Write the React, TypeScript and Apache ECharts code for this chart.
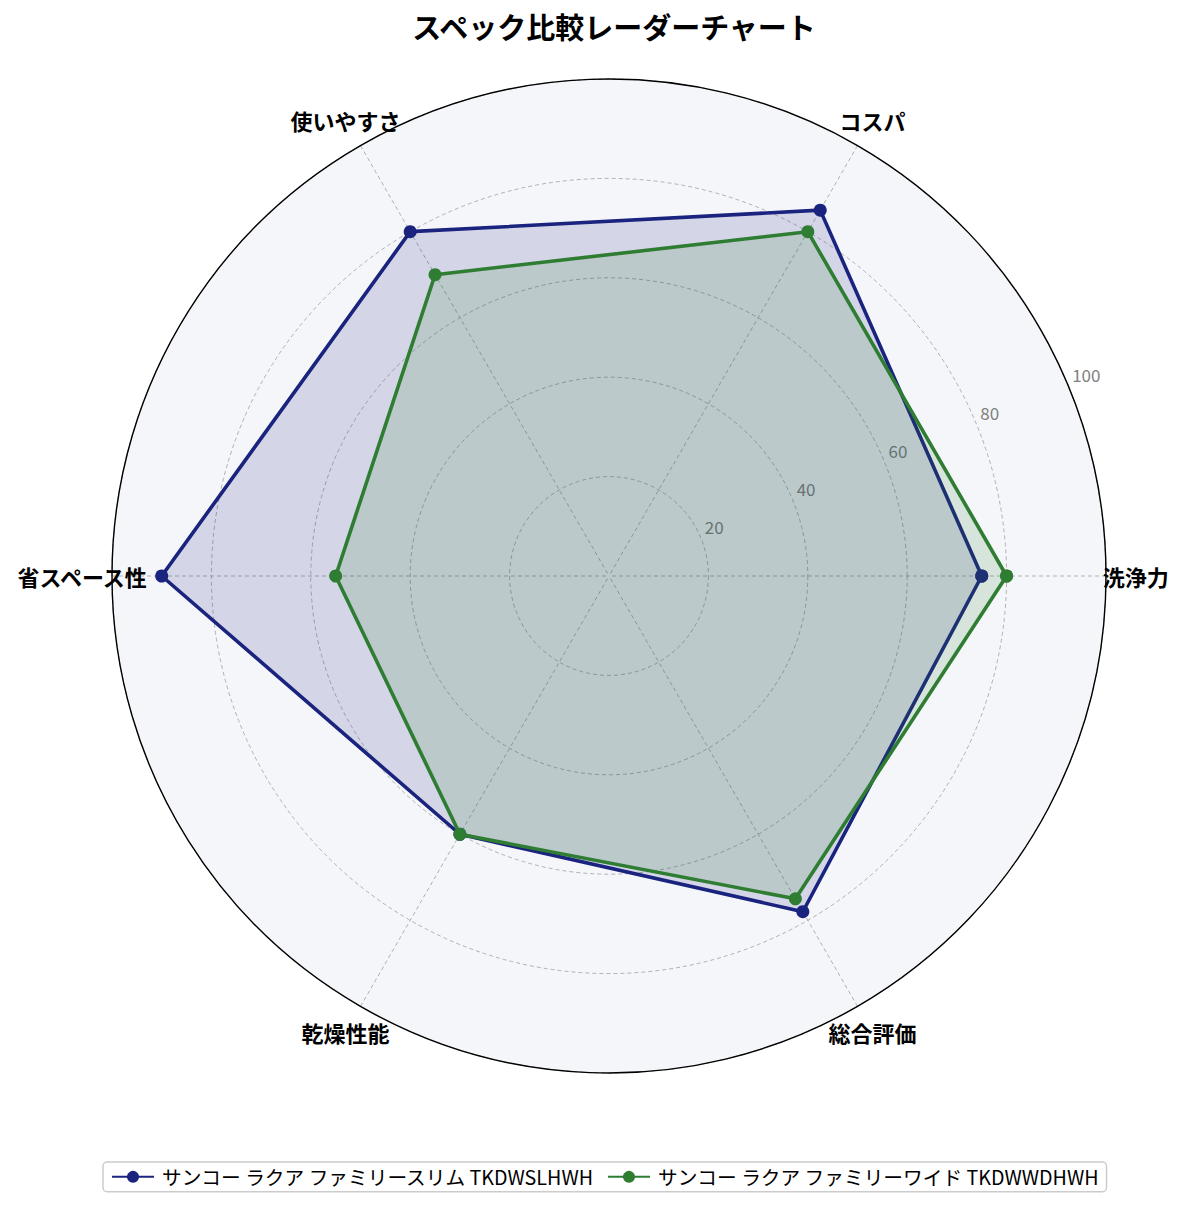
import React, { useEffect, useRef } from "react";
import * as echarts from "echarts";

const categories = ["洗浄力", "コスパ", "使いやすさ", "省スペース性", "乾燥性能", "総合評価"];
const slimValues = [75, 85, 80, 90, 60, 78];
const wideValues = [80, 80, 70, 55, 60, 75];
const radialTicks = [0, 20, 40, 60, 80, 100];
const seriesNames = ["サンコー ラクア ファミリースリム TKDWSLHWH", "サンコー ラクア ファミリーワイド TKDWWDHWH"];
const seriesColors = ["#1a237e", "#2e7d32"];

const FONT = "'Noto Sans CJK JP', 'Noto Sans', sans-serif";

function toPolar(values: number[]) {
  const step = 360 / categories.length;
  const pts = values.map((v, i) => [v, i * step]);
  pts.push([values[0], 360]);
  return pts;
}

export default function App() {
  const ref = useRef<HTMLDivElement>(null);
  useEffect(() => {
    if (!ref.current) return;
    const chart = echarts.init(ref.current, undefined, { renderer: "svg" });
    const center = [609, 576];
    const radius = 497;
    const step = 360 / categories.length;
    const labelR = 106;
    const gridLine = { color: "#a8a8a8", type: [4, 3], width: 0.9 };
    chart.setOption({
      animation: false,
      backgroundColor: "#ffffff",
      textStyle: { fontFamily: FONT },
      title: {
        text: "スペック比較レーダーチャート",
        left: 609,
        textAlign: "center",
        top: 6,
        textStyle: { fontSize: 29, fontWeight: "bold", color: "#000", fontFamily: FONT },
      },
      legend: {
        data: seriesNames,
        top: 1162,
        left: 103,
        orient: "horizontal",
        itemWidth: 42,
        itemHeight: 15,
        itemGap: 13,
        padding: [5, 8],
        borderColor: "#cccccc",
        borderWidth: 1.5,
        borderRadius: 4,
        textStyle: { fontSize: 19.7, color: "#000", fontFamily: FONT, padding: [0, 0, 0, 3] },
      },
      polar: [
        { center, radius },
        { center, radius },
      ],
      angleAxis: [
        {
          polarIndex: 0,
          type: "value",
          min: 0,
          max: 360,
          interval: step,
          startAngle: 0,
          clockwise: false,
          axisLine: { show: false },
          axisTick: { show: false },
          axisLabel: { show: false },
          splitLine: { show: true, lineStyle: gridLine },
        },
        {
          polarIndex: 1,
          type: "value",
          min: 0,
          max: 360,
          interval: step,
          startAngle: 22.5,
          clockwise: false,
          z: 2,
          axisLine: { show: true, lineStyle: { color: "#000", width: 1.4 } },
          axisTick: { show: false },
          axisLabel: { show: false },
          splitLine: { show: false },
        },
      ],
      radiusAxis: [
        {
          polarIndex: 0,
          type: "value",
          min: 0,
          max: 100,
          interval: 20,
          axisLine: { show: false },
          axisTick: { show: false },
          axisLabel: { show: false },
          splitLine: { show: false },
          splitArea: { show: true, areaStyle: { color: ["#f5f6fa"] } },
        },
        {
          polarIndex: 1,
          type: "value",
          min: 0,
          max: 100,
          interval: 20,
          z: 1,
          axisLine: { show: false },
          axisTick: { show: false },
          splitLine: { show: true, lineStyle: gridLine },
          axisLabel: {
            show: true,
            fontSize: 17,
            color: "#808080",
            fontFamily: FONT,
            margin: 0,
            align: "left",
            verticalAlign: "bottom",
            padding: [0, 0, 3, 4],
            formatter: (v: number) => (radialTicks.includes(v) && v > 0 ? String(v) : ""),
          },
        },
      ],
      series: [
        ...[slimValues, wideValues].map((vals, i) => ({
          name: seriesNames[i],
          type: "line",
          coordinateSystem: "polar",
          polarIndex: 0,
          data: toPolar(vals),
          symbol: "circle",
          symbolSize: 13,
          showSymbol: true,
          lineStyle: { color: seriesColors[i], width: 3.6 },
          itemStyle: { color: seriesColors[i] },
          areaStyle: { color: seriesColors[i], opacity: 0.15 },
          z: 3 + i,
        })),
        {
          name: "categoryLabels",
          type: "scatter",
          coordinateSystem: "polar",
          polarIndex: 0,
          clip: false,
          silent: true,
          symbol: "circle",
          symbolSize: 1,
          itemStyle: { color: "rgba(0,0,0,0)" },
          data: categories.map((c, i) => ({ name: c, value: [labelR, i * step] })),
          label: {
            show: true,
            position: "inside",
            formatter: "{b}",
            fontSize: 22,
            fontWeight: "bold",
            color: "#000",
            textBorderWidth: 0,
            opacity: 1,
            fontFamily: FONT,
          },
          z: 6,
        },
      ],
    });
    return () => chart.dispose();
  }, []);
  return <div ref={ref} style={{ position: "fixed", left: 0, top: 0, width: 1185, height: 1211 }} />;
}
